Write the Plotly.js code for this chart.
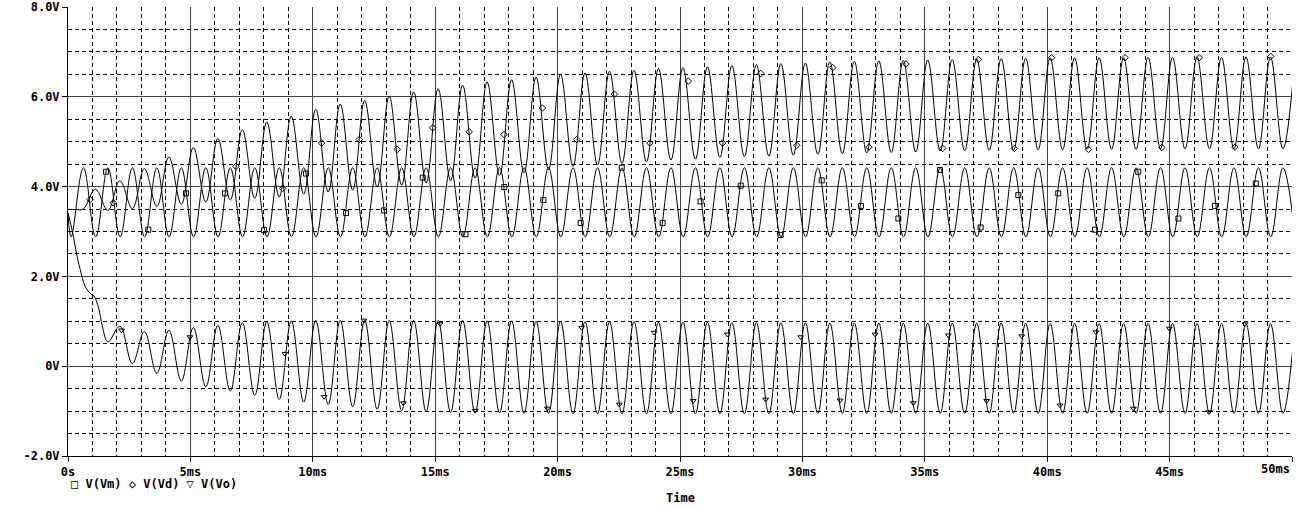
<!DOCTYPE html>
<html>
<head>
<meta charset="utf-8">
<script src="https://cdn.plot.ly/plotly-3.0.1.min.js"></script>
<style>
html,body{margin:0;padding:0;background:#fff;}
#chart{width:1300px;height:507px;}
</style>
</head>
<body>
<div id="chart"></div>
<script>
// ---- Data (time in ms, voltage in V) ----
// V(Vm): extrema of the input signal
const tVm = [0, 0.13, 0.63, 1.13, 1.63, 2.13, 2.63, 3.13, 3.63, 4.13, 4.63, 5.13, 5.63, 6.13, 6.63, 7.13, 7.63, 8.13, 8.63, 9.13, 9.63,
  10.13, 10.63, 11.13, 11.63, 12.13, 12.63, 13.13, 13.63, 14.13, 14.63, 15.13, 15.63, 16.13, 16.63, 17.13, 17.63, 18.13, 18.63, 19.13, 19.63,
  20.13, 20.63, 21.13, 21.63, 22.13, 22.63, 23.13, 23.63, 24.13, 24.63, 25.13, 25.63, 26.13, 26.63, 27.13, 27.63, 28.13, 28.63, 29.13, 29.63,
  30.13, 30.63, 31.13, 31.63, 32.13, 32.63, 33.13, 33.63, 34.13, 34.63, 35.13, 35.63, 36.13, 36.63, 37.13, 37.63, 38.13, 38.63, 39.13, 39.63,
  40.13, 40.63, 41.13, 41.63, 42.13, 42.63, 43.13, 43.63, 44.13, 44.63, 45.13, 45.63, 46.13, 46.63, 47.13, 47.63, 48.13, 48.63, 49.13, 49.63, 50.13];
const vVm = [3.38, 2.88, 4.42, 2.88, 4.42, 2.88, 4.42, 2.88, 4.42, 2.88, 4.42, 2.88, 4.42, 2.88, 4.42, 2.88, 4.42, 2.88, 4.42, 2.88, 4.42,
  2.88, 4.42, 2.88, 4.42, 2.88, 4.42, 2.88, 4.42, 2.88, 4.42, 2.88, 4.42, 2.88, 4.42, 2.88, 4.42, 2.88, 4.42, 2.88, 4.42,
  2.88, 4.42, 2.88, 4.42, 2.88, 4.42, 2.88, 4.42, 2.88, 4.42, 2.88, 4.42, 2.88, 4.42, 2.88, 4.42, 2.88, 4.42, 2.88, 4.42,
  2.88, 4.42, 2.88, 4.42, 2.88, 4.42, 2.88, 4.42, 2.88, 4.42, 2.88, 4.42, 2.88, 4.42, 2.88, 4.42, 2.88, 4.42, 2.88, 4.42,
  2.88, 4.42, 2.88, 4.42, 2.88, 4.42, 2.88, 4.42, 2.88, 4.42, 2.88, 4.42, 2.88, 4.42, 2.88, 4.42, 2.88, 4.42, 2.88, 4.42, 2.88];

// V(Vd)
const tVd = [0, 0.3, 0.62,
  1.12, 1.63, 2.12, 2.63, 3.12, 3.63, 4.12, 4.63, 5.12, 5.63, 6.12, 6.63, 7.12, 7.63, 8.12, 8.63, 9.12, 9.63,
  10.12, 10.63, 11.12, 11.63, 12.12, 12.63, 13.12, 13.63, 14.12, 14.63, 15.12, 15.63, 16.12, 16.63, 17.12, 17.63, 18.12, 18.63, 19.12, 19.63,
  20.12, 20.63, 21.12, 21.63, 22.12, 22.63, 23.12, 23.63, 24.12, 24.63, 25.12, 25.63, 26.12, 26.63, 27.12, 27.63, 28.12, 28.63, 29.12, 29.63,
  30.12, 30.63, 31.12, 31.63, 32.12, 32.63, 33.12, 33.63, 34.12, 34.63, 35.12, 35.63, 36.12, 36.63, 37.12, 37.63, 38.12, 38.63, 39.12, 39.63,
  40.12, 40.63, 41.12, 41.63, 42.12, 42.63, 43.12, 43.63, 44.12, 44.63, 45.12, 45.63, 46.12, 46.63, 47.12, 47.63, 48.12, 48.63, 49.12, 49.63,
  50.12];
const vVd = [3.49, 3.49, 3.50,
  3.94, 3.47, 4.13, 3.51, 4.40, 3.56, 4.66, 3.61, 4.87, 3.66, 5.07, 3.70, 5.27, 3.74, 5.44, 3.77, 5.57, 3.83,
  5.72, 3.88, 5.84, 3.92, 5.92, 3.99, 6.02, 4.03, 6.11, 4.08, 6.18, 4.13, 6.26, 4.19, 6.33, 4.25, 6.38, 4.31, 6.44, 4.38,
  6.50, 4.45, 6.53, 4.48, 6.57, 4.52, 6.59, 4.55, 6.63, 4.59, 6.65, 4.61, 6.67, 4.65, 6.70, 4.67, 6.72, 4.68, 6.74, 4.70,
  6.75, 4.72, 6.78, 4.73, 6.79, 4.75, 6.80, 4.76, 6.81, 4.77, 6.82, 4.79, 6.83, 4.80, 6.84, 4.81, 6.85, 4.81, 6.86, 4.82,
  6.87, 4.82, 6.87, 4.83, 6.87, 4.83, 6.87, 4.83, 6.88, 4.84, 6.88, 4.84, 6.88, 4.84, 6.88, 4.84, 6.89, 4.84, 6.89, 4.84,
  6.89];

// V(Vo)
const tVo = [0, 0.2, 0.35, 0.5, 0.7, 0.95, 1.05, 1.25, 1.4, 1.63,
  2.12, 2.63, 3.12, 3.63, 4.12, 4.63, 5.12, 5.63, 6.12, 6.63, 7.12, 7.63, 8.12, 8.63, 9.12, 9.63,
  10.12, 10.63, 11.12, 11.63, 12.12, 12.63, 13.12, 13.63, 14.12, 14.63, 15.12, 15.63, 16.12, 16.63, 17.12, 17.63, 18.12, 18.63, 19.12, 19.63,
  20.12, 20.63, 21.12, 21.63, 22.12, 22.63, 23.12, 23.63, 24.12, 24.63, 25.12, 25.63, 26.12, 26.63, 27.12, 27.63, 28.12, 28.63, 29.12, 29.63,
  30.12, 30.63, 31.12, 31.63, 32.12, 32.63, 33.12, 33.63, 34.12, 34.63, 35.12, 35.63, 36.12, 36.63, 37.12, 37.63, 38.12, 38.63, 39.12, 39.63,
  40.12, 40.63, 41.12, 41.63, 42.12, 42.63, 43.12, 43.63, 44.12, 44.63, 45.12, 45.63, 46.12, 46.63, 47.12, 47.63, 48.12, 48.63, 49.12, 49.63,
  50.12];
const vVo = [3.42, 2.95, 2.50, 2.15, 1.78, 1.60, 1.57, 1.30, 0.90, 0.54,
  0.89, 0.06, 0.77, -0.16, 0.80, -0.33, 0.86, -0.46, 0.91, -0.55, 0.97, -0.65, 0.99, -0.74, 1.01, -0.80,
  1.02, -0.85, 1.02, -0.90, 1.02, -0.96, 1.02, -0.99, 1.02, -1.01, 1.02, -1.03, 1.02, -1.04, 1.01, -1.04, 1.01, -1.05, 1.00, -1.05,
  1.00, -1.06, 0.99, -1.06, 0.99, -1.06, 0.99, -1.06, 0.98, -1.06, 0.98, -1.06, 0.98, -1.06, 0.97, -1.06, 0.97, -1.06, 0.97, -1.06,
  0.97, -1.05, 0.96, -1.05, 0.96, -1.05, 0.96, -1.05, 0.96, -1.05, 0.96, -1.05, 0.96, -1.05, 0.96, -1.05, 0.96, -1.05, 0.96, -1.05,
  0.95, -1.05, 0.95, -1.05, 0.95, -1.05, 0.95, -1.05, 0.95, -1.05, 0.95, -1.05, 0.95, -1.05, 0.95, -1.05, 0.95, -1.05, 0.95, -1.05,
  0.95];

// Probe markers placed along each trace
const mkVmT = [1.55, 3.28, 4.82, 6.41, 8.01, 9.72, 11.36, 12.91, 14.49, 16.24, 17.82, 19.42, 20.94, 22.62, 24.29, 25.84, 27.48, 29.11, 30.79, 32.39, 33.92, 35.62, 37.28, 38.82, 40.45, 41.95, 43.72, 45.36, 46.85, 48.52];
const mkVmV = [4.33, 3.04, 3.85, 3.85, 3.03, 4.29, 3.41, 3.47, 4.20, 2.94, 3.99, 3.70, 3.19, 4.42, 3.19, 3.67, 4.02, 2.92, 4.14, 3.57, 3.29, 4.37, 3.09, 3.81, 3.85, 3.04, 4.33, 3.29, 3.57, 4.07];
const mkVdT = [0.9, 1.85, 6.86, 8.77, 10.36, 11.9, 13.45, 14.9, 16.39, 17.81, 19.38, 20.78, 22.32, 23.77, 25.34, 26.74, 28.3, 29.77, 31.24, 32.72, 34.23, 35.73, 37.19, 38.66, 40.18, 41.68, 43.18, 44.68, 46.21, 47.67, 49.13];
const mkVdV = [3.71, 3.64, 4.45, 3.96, 4.97, 5.05, 4.83, 5.31, 5.22, 5.16, 5.75, 5.05, 6.06, 4.97, 6.35, 4.97, 6.52, 4.92, 6.65, 4.88, 6.73, 4.85, 6.83, 4.85, 6.87, 4.83, 6.87, 4.87, 6.87, 4.88, 6.90];
const mkVoT = [2.19, 4.98, 8.86, 10.46, 12.09, 13.7, 15.2, 16.63, 19.58, 20.98, 22.52, 23.94, 25.54, 26.93, 28.5, 29.93, 31.54, 32.97, 34.53, 35.96, 37.53, 38.96, 40.52, 41.99, 43.52, 44.99, 46.61, 48.08];
const mkVoV = [0.80, 0.65, 0.28, -0.68, 1.02, -0.82, 0.94, -0.99, -0.94, 0.86, -0.85, 0.75, -0.77, 0.71, -0.74, 0.65, -0.76, 0.71, -0.82, 0.69, -0.77, 0.67, -0.87, 0.76, -0.94, 0.84, -1.02, 0.94];

// Axis ticks
const xTickVals = [0, 5, 10, 15, 20, 25, 30, 35, 40, 45, 50];
const xTickText = ['0s', '5ms', '10ms', '15ms', '20ms', '25ms', '30ms', '35ms', '40ms', '45ms', ''];
const yTickVals = [-2, 0, 2, 4, 6, 8];
const yTickText = ['-2.0V', '0V', '2.0V', '4.0V', '6.0V', '8.0V'];
const legendText = '□ V(Vm) ◇ V(Vd) ▽ V(Vo)';

// ---- Plot ----
const FONT = 'DejaVu Sans Mono, Liberation Mono, monospace';
const lineStyle = {color: '#000', width: 1, shape: 'spline', smoothing: 1.1};

function mk(t, v, sym) {
  return {x: t, y: v, type: 'scatter', mode: 'markers', hoverinfo: 'skip', showlegend: false,
    marker: {symbol: sym, size: 5, color: '#000', line: {color: '#000', width: 1}}};
}

const traces = [
  {x: tVm, y: vVm, type: 'scatter', mode: 'lines', name: 'V(Vm)', line: lineStyle, showlegend: false},
  {x: tVd, y: vVd, type: 'scatter', mode: 'lines', name: 'V(Vd)', line: lineStyle, showlegend: false},
  {x: tVo, y: vVo, type: 'scatter', mode: 'lines', name: 'V(Vo)', line: lineStyle, showlegend: false},
  mk(mkVmT, mkVmV, 'square-open'),
  mk(mkVdT, mkVdV, 'diamond-open'),
  mk(mkVoT, mkVoV, 'triangle-down-open')
];

const tickFont = {family: FONT, size: 12, color: '#000', weight: 'bold'};

const layout = {
  width: 1300, height: 507,
  margin: {l: 68, r: 8, t: 7, b: 51, pad: 0},
  paper_bgcolor: '#fff', plot_bgcolor: '#fff',
  showlegend: false,
  xaxis: {
    range: [0, 50], tickmode: 'array', tickvals: xTickVals, ticktext: xTickText,
    ticks: 'outside', ticklen: 5, tickcolor: '#000', tickwidth: 1,
    showline: true, linecolor: '#000', linewidth: 1,
    showgrid: true, gridcolor: '#444', gridwidth: 1, zeroline: false,
    minor: {tickmode: 'linear', tick0: 0, dtick: 1, showgrid: true, gridcolor: '#000', griddash: '4px,3px', gridwidth: 1, ticks: ''},
    tickfont: tickFont, automargin: false
  },
  yaxis: {
    range: [-2, 8], tickmode: 'array', tickvals: yTickVals, ticktext: yTickText,
    ticks: 'outside', ticklen: 5, tickcolor: '#000', tickwidth: 1,
    showline: true, linecolor: '#000', linewidth: 1,
    showgrid: true, gridcolor: '#444', gridwidth: 1, zeroline: false,
    minor: {tickmode: 'linear', tick0: 0, dtick: 0.5, showgrid: true, gridcolor: '#000', griddash: '4px,3px', gridwidth: 1, ticks: ''},
    tickfont: tickFont, automargin: false
  },
  annotations: [
    {xref: 'paper', yref: 'paper', x: 1, y: -0.0300, xanchor: 'right', yanchor: 'middle',
     text: '50ms', showarrow: false, font: tickFont},
    {xref: 'paper', yref: 'paper', x: 0.0010, y: -0.0624, xanchor: 'left', yanchor: 'middle',
     text: legendText, showarrow: false, font: tickFont},
    {xref: 'paper', yref: 'paper', x: 0.5, y: -0.0935, xanchor: 'center', yanchor: 'middle',
     text: 'Time', showarrow: false, font: tickFont}
  ]
};

Plotly.newPlot('chart', traces, layout, {staticPlot: true, displayModeBar: false});
</script>
</body>
</html>
